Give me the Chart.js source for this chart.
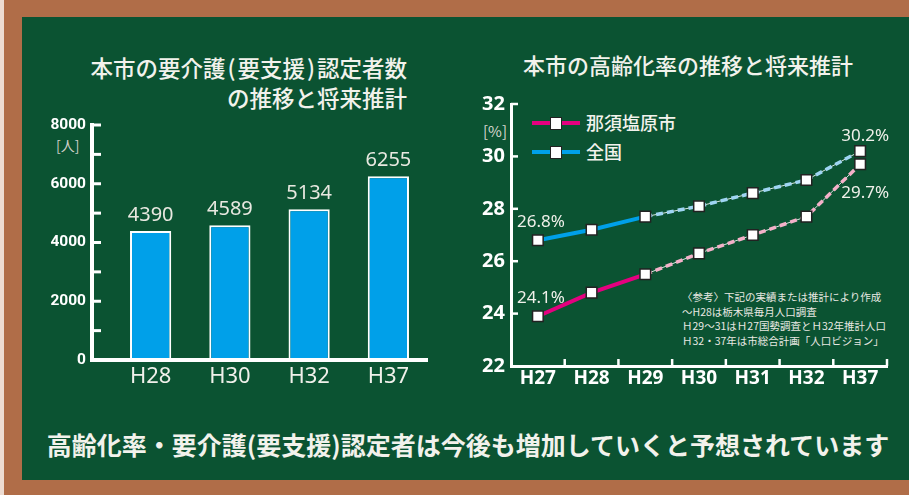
<!DOCTYPE html>
<html lang="ja">
<head>
<meta charset="utf-8">
<title>高齢化率・要介護認定者数の推移</title>
<script src="https://cdn.jsdelivr.net/npm/chart.js@4"></script>
<style>
  html, body { margin: 0; padding: 0; }
  body {
    width: 909px; height: 495px; overflow: hidden; position: relative;
    background: #b06d48;
    font-family: 'Noto Sans CJK JP', 'Noto Sans', sans-serif;
    color: #f2f2ec;
  }
  .edge { position: absolute; left: 0; top: 0; width: 4px; height: 495px; background: #eddcd2; }
  .board { position: absolute; left: 22px; top: 17px; width: 900px; height: 463px; background: #0b5332; }
  .abs { position: absolute; white-space: nowrap; }
  canvas { position: absolute; }
  .title { font-size: 22.5px; font-weight: 500; line-height: 30px; }
  .title .p { margin: 0 2px; }
  .legend-row { position: absolute; left: 532px; width: 200px; height: 20px; white-space: nowrap; }
  .legend-row .ln { position: absolute; left: 0; top: 8px; width: 48px; height: 4px; }
  .legend-row .mk { position: absolute; left: 18px; top: 4px; width: 10px; height: 11px; background: #fff; border: 1px solid #222; }
  .legend-row .tx { position: absolute; left: 54px; top: -3px; font-size: 18px; font-weight: 500; line-height: 24px; }
</style>
</head>
<body>
<div class="edge"></div>
<div class="board"></div>

<div class="abs title" style="left:40px; top:52px; width:367px; text-align:right;">本市の要介護<span class="p">(</span>要支援<span class="p">)</span>認定者数<br>の推移と将来推計</div>
<div class="abs title" style="left:488px; top:49px; width:400px; text-align:center; font-size:22px;">本市の高齢化率の推移と将来推計</div>

<div class="abs" style="left:56px; top:136px; font-size:14px; line-height:18px; color:#cfcfc8;">[人]</div>
<div class="abs" style="left:483px; top:121px; font-size:15px; line-height:20px; color:#d8d8d0;">[%]</div>

<div class="legend-row" style="top:113px;">
  <div class="ln" style="background:#e4007f;"></div><div class="mk"></div><div class="tx">那須塩原市</div>
</div>
<div class="legend-row" style="top:142px;">
  <div class="ln" style="background:#00a0e9;"></div><div class="mk"></div><div class="tx">全国</div>
</div>

<div class="abs" style="left:682px; top:290px; font-size:10.5px; line-height:14.6px; color:#e8e8e2;">
〈参考〉下記の実績または推計により作成<br>
～H28は栃木県毎月人口調査<br>
Ｈ29～31はＨ27国勢調査とＨ32年推計人口<br>
Ｈ32・37年は市総合計画「人口ビジョン」
</div>

<div class="abs" style="left:40px; top:429px; width:856px; text-align:center; font-size:25px; font-weight:700; line-height:30px;">高齢化率・要介護(要支援)認定者は今後も増加していくと予想されています</div>

<canvas id="careChart" width="400" height="290" style="left:40px; top:110px;"></canvas>
<canvas id="rateChart" width="440" height="310" style="left:460px; top:90px;"></canvas>

<script>
// 要介護(要支援)認定者数
const careYears = ['H28', 'H30', 'H32', 'H37'];
const careCounts = [4390, 4589, 5134, 6255];
const careTickMax = 8000;
const careTickStep = 1000;
const careLabelStep = 2000;

// 高齢化率 [%]
const rateYears = ['H27', 'H28', 'H29', 'H30', 'H31', 'H32', 'H37'];
const cityRate = [23.9, 24.8, 25.5, 26.3, 27.0, 27.7, 29.7];
const nationRate = [26.8, 27.2, 27.7, 28.1, 28.6, 29.1, 30.2];
const cityEndLabels = ['24.1%', '29.7%'];
const nationEndLabels = ['26.8%', '30.2%'];
const rateMin = 22;
const rateMax = 32;
const rateStep = 2;
const actualUntil = 2; // index of last actual value (H29), dashed after

const textColor = '#f0f0ea';

// axes drawn by hand so the y axis sits left of the first bar
const careAxes = {
  id: 'careAxes',
  afterDatasetsDraw(chart) {
    const { ctx, chartArea, scales } = chart;
    const axisX = chartArea.left - 19;
    ctx.save();
    ctx.strokeStyle = '#ffffff';
    ctx.lineWidth = 4;
    ctx.beginPath();
    ctx.moveTo(axisX, scales.y.getPixelForValue(careTickMax) - 2);
    ctx.lineTo(axisX, chartArea.bottom);
    ctx.lineTo(chartArea.right, chartArea.bottom);
    ctx.stroke();
    ctx.lineWidth = 3;
    scales.y.ticks.forEach(t => {
      if (t.value === 0) return;
      const y = scales.y.getPixelForValue(t.value);
      ctx.beginPath();
      ctx.moveTo(axisX, y);
      ctx.lineTo(axisX + 9, y);
      ctx.stroke();
    });
    // value labels above bars
    ctx.fillStyle = '#e8e8e0';
    ctx.font = '20px "Noto Sans", sans-serif';
    ctx.textAlign = 'center';
    ctx.textBaseline = 'middle';
    chart.getDatasetMeta(0).data.forEach((bar, i) => {
      ctx.fillText(String(careCounts[i]), bar.x, bar.y - 16);
    });
    ctx.restore();
  }
};

// invisible tick marks push the labels away from the axis without adding top padding
const hiddenTicks = len => ({ display: true, drawOnChartArea: false, drawTicks: true, tickLength: len, color: 'rgba(0,0,0,0)' });

new Chart(document.getElementById('careChart').getContext('2d'), {
  type: 'bar',
  data: {
    labels: careYears,
    datasets: [{
      data: careCounts,
      backgroundColor: '#00a0e9',
      borderColor: '#ffffff',
      borderWidth: 2,
      categoryPercentage: 1,
      barPercentage: 0.52
    }]
  },
  options: {
    responsive: false,
    animation: false,
    layout: { padding: { left: 0, right: 12, top: 15, bottom: 0 } },
    plugins: { legend: { display: false }, tooltip: { enabled: false } },
    scales: {
      x: {
        grid: { display: false, drawTicks: false },
        border: { display: false },
        ticks: { color: textColor, padding: 4, font: { family: 'Noto Sans', size: 22 } },
        afterFit: s => { s.height = 40; }
      },
      y: {
        min: 0,
        max: careTickMax,
        grid: hiddenTicks(25),
        border: { display: false },
        ticks: {
          stepSize: careTickStep,
          autoSkip: false,
          padding: 0,
          color: '#ffffff',
          font: { family: 'Roboto', size: 15.5, weight: 'bold' },
          callback: v => (v % careLabelStep === 0 ? v : '')
        },
        afterFit: s => { s.width = 71; }
      }
    }
  },
  plugins: [careAxes]
});

// thin white guide under the dashed (estimate) part, inner ticks, end labels
const rateExtras = {
  id: 'rateExtras',
  beforeDatasetsDraw(chart) {
    const { ctx } = chart;
    ctx.save();
    ctx.strokeStyle = 'rgba(255,255,255,0.85)';
    ctx.lineWidth = 1;
    chart.data.datasets.forEach((ds, di) => {
      const pts = chart.getDatasetMeta(di).data;
      ctx.beginPath();
      ctx.moveTo(pts[actualUntil].x, pts[actualUntil].y);
      for (let i = actualUntil + 1; i < pts.length; i++) ctx.lineTo(pts[i].x, pts[i].y);
      ctx.stroke();
    });
    ctx.restore();
  },
  afterDraw(chart) {
    const { ctx, chartArea, scales } = chart;
    ctx.save();
    ctx.strokeStyle = '#ffffff';
    ctx.lineWidth = 2.5;
    scales.y.ticks.forEach(t => {
      if (t.value === rateMin) return;
      const y = scales.y.getPixelForValue(t.value);
      ctx.beginPath();
      ctx.moveTo(chartArea.left, y);
      ctx.lineTo(chartArea.left + 7, y);
      ctx.stroke();
    });
    const catW = (chartArea.right - chartArea.left) / rateYears.length;
    rateYears.forEach((_, i) => {
      const x = scales.x.getPixelForTick(i) + catW / 2;
      ctx.beginPath();
      ctx.moveTo(x, chartArea.bottom);
      ctx.lineTo(x, chartArea.bottom - 7);
      ctx.stroke();
    });
    ctx.fillStyle = textColor;
    ctx.font = '17px "Noto Sans", sans-serif';
    ctx.textAlign = 'center';
    ctx.textBaseline = 'middle';
    const city = chart.getDatasetMeta(0).data;
    const nation = chart.getDatasetMeta(1).data;
    const last = rateYears.length - 1;
    ctx.fillText(cityEndLabels[0], city[0].x + 3, city[0].y - 18);
    ctx.fillText(nationEndLabels[0], nation[0].x + 3, nation[0].y - 18);
    ctx.fillText(nationEndLabels[1], nation[last].x + 5, nation[last].y - 15);
    ctx.fillText(cityEndLabels[1], city[last].x + 5, city[last].y + 29);
    ctx.restore();
  }
};

function lineSet(label, data, solid, light) {
  return {
    label: label,
    data: data,
    borderColor: solid,
    borderWidth: 4,
    pointStyle: 'rect',
    pointRadius: 7.5,
    pointBackgroundColor: '#ffffff',
    pointBorderColor: '#222222',
    pointBorderWidth: 1.5,
    tension: 0,
    segment: {
      borderColor: c => (c.p0DataIndex >= actualUntil ? light : solid),
      borderDash: c => (c.p0DataIndex >= actualUntil ? [7, 4] : undefined),
      borderWidth: c => (c.p0DataIndex >= actualUntil ? 3.5 : 4)
    }
  };
}

new Chart(document.getElementById('rateChart').getContext('2d'), {
  type: 'line',
  data: {
    labels: rateYears,
    datasets: [
      lineSet('那須塩原市', cityRate, '#e4007f', '#f4b1c9'),
      lineSet('全国', nationRate, '#00a0e9', '#9fd5f3')
    ]
  },
  options: {
    responsive: false,
    animation: false,
    layout: { padding: { left: 0, right: 13, top: 14, bottom: 0 } },
    plugins: { legend: { display: false }, tooltip: { enabled: false } },
    scales: {
      x: {
        offset: true,
        grid: { display: false, drawTicks: false },
        border: { display: true, color: '#ffffff', width: 3 },
        ticks: { color: '#ffffff', padding: 1, font: { family: 'Noto Sans', size: 19, weight: 'bold' } },
        afterFit: s => { s.height = 34; }
      },
      y: {
        min: rateMin,
        max: rateMax,
        grid: hiddenTicks(6),
        border: { display: true, color: '#ffffff', width: 3 },
        ticks: { stepSize: rateStep, padding: 0, color: '#ffffff', font: { family: 'Noto Sans', size: 20, weight: 'bold' } },
        afterFit: s => { s.width = 51; }
      }
    }
  },
  plugins: [rateExtras]
});
</script>
</body>
</html>
